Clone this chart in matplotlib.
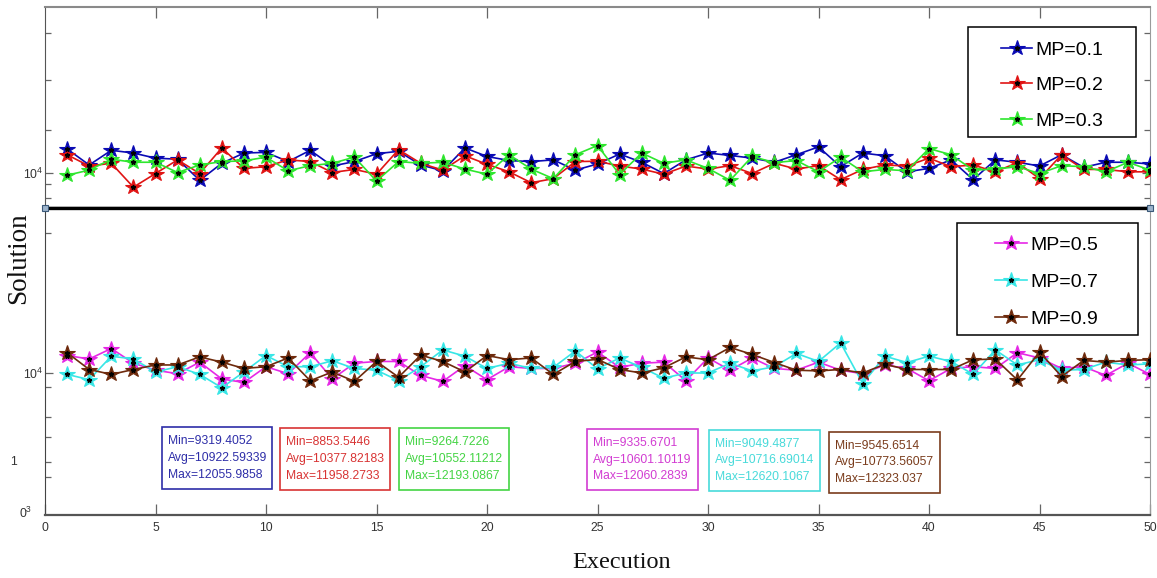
import matplotlib
matplotlib.use('Agg')
import matplotlib.pyplot as plt
from matplotlib.patches import Rectangle
from matplotlib.legend_handler import HandlerTuple

plt.rcParams['font.family'] = ['Liberation Sans', 'DejaVu Sans']
plt.rcParams['mathtext.default'] = 'regular'

W, H = 1157, 578

executions = list(range(1, 51))
mp01 = [11932, 10616, 11820, 11596, 11176, 11092, 9356, 10756, 11596, 11652,
        10896, 11820, 10532, 10896, 11540, 11736, 10616, 10140, 12016, 11316,
        10980, 10896, 11036, 10196, 10700, 11512, 10840, 9916, 11036, 11596,
        11400, 11176, 10840, 11456, 12100, 10476, 11596, 11372, 10056, 10336,
        11036, 9412, 11036, 10840, 10532, 11456, 10420, 10840, 10840, 10700]
mp02 = [11456, 10532, 10756, 8796, 9916, 11036, 9916, 12016, 10336, 10476,
        11036, 10896, 10000, 10252, 9860, 11876, 10756, 10196, 11372, 10672,
        10056, 9160, 9496, 10896, 10924, 10532, 10280, 9860, 10532, 10280,
        10560, 9916, 10756, 10280, 10560, 9412, 10252, 10616, 10532, 11176,
        10476, 10616, 10056, 10812, 9496, 11456, 10252, 10252, 10056, 10056]
mp03 = [9776, 10196, 11092, 10840, 10840, 10000, 10616, 10896, 10952, 11260,
        10140, 10560, 10756, 11260, 9300, 10896, 10756, 10840, 10280, 9860,
        11456, 10280, 9496, 11456, 12212, 9832, 11596, 10756, 11036, 10336,
        9356, 11316, 10812, 10980, 10056, 11260, 10056, 10252, 10140, 11960,
        11456, 10196, 10280, 10476, 9916, 10560, 10476, 10056, 10840, 10196]
mp05 = [11540, 11232, 12156, 10862, 10246, 9938, 10955, 9476, 9168, 10554,
        9938, 11786, 9476, 10862, 11016, 11016, 9784, 9261, 10647, 9415,
        10554, 10400, 10400, 10862, 11848, 10493, 10862, 10955, 9322, 11324,
        10246, 11324, 10400, 10246, 10955, 10246, 9938, 10708, 10400, 9322,
        10400, 10554, 10400, 11786, 11324, 10400, 10554, 9784, 10862, 9877]
mp07 = [9877, 9415, 11478, 11232, 10092, 10554, 9877, 8706, 10092, 11540,
        10554, 10554, 11078, 10400, 10246, 9322, 10554, 12033, 11478, 10400,
        10862, 10400, 10493, 11940, 10370, 11324, 10493, 9538, 10000, 10000,
        10862, 10185, 10554, 11725, 11016, 12649, 9076, 11478, 10924, 11478,
        11016, 9877, 12033, 10708, 11170, 10246, 10308, 10955, 10708, 10801]
mp09 = [11786, 10308, 9877, 10308, 10708, 10708, 11417, 10955, 10400, 10554,
        11324, 9322, 10092, 9261, 11016, 9630, 11571, 11016, 10092, 11540,
        11170, 11324, 9877, 11016, 11201, 10308, 10000, 10462, 11417, 11170,
        12248, 11632, 10924, 10246, 10185, 10308, 10000, 10770, 10308, 10308,
        10308, 11170, 11232, 9384, 11848, 9692, 11109, 10955, 11109, 11170]

x_ticks = [0, 5, 10, 15, 20, 25, 30, 35, 40, 45, 50]
top_x_ticks = [5, 10, 15, 20, 30, 35, 40, 45]
labels_top = ['MP=0.1', 'MP=0.2', 'MP=0.3']
labels_bot = ['MP=0.5', 'MP=0.7', 'MP=0.9']
colors_top = ['#0a0ab4', '#e01414', '#2ee62e']
colors_bot = ['#e628e6', '#38e6e6', '#6e2a0c']

stat_texts = [
    ('Min=9319.4052', 'Avg=10922.59339', 'Max=12055.9858'),
    ('Min=8853.5446', 'Avg=10377.82183', 'Max=11958.2733'),
    ('Min=9264.7226', 'Avg=10552.11212', 'Max=12193.0867'),
    ('Min=9335.6701', 'Avg=10601.10119', 'Max=12060.2839'),
    ('Min=9049.4877', 'Avg=10716.69014', 'Max=12620.1067'),
    ('Min=9545.6514', 'Avg=10773.56057', 'Max=12323.037'),
]
stat_colors = ['#2e2ea8', '#d83434', '#44d444', '#d23cd2', '#48dada', '#7a3c1c']
stat_boxes_px = [(162, 427, 272, 489), (280, 428, 390, 490), (399, 428, 509, 490),
                 (587, 429, 698, 490), (709, 430, 820, 491), (829, 432, 940, 493)]

fig = plt.figure(figsize=(W / 100, H / 100), dpi=100)
fig.patch.set_facecolor('white')


def fx(px):
    return px / W


def fy(py):
    return 1 - py / H


ax_top = fig.add_axes([fx(45), fy(208), fx(1150) - fx(45), fy(7) - fy(208)])
ax_bot = fig.add_axes([fx(45), fy(515), fx(1150) - fx(45), fy(208) - fy(515)])


def draw(ax, ys, color):
    ln, = ax.plot(executions, ys, '-', color=color, lw=1.2, marker='*', ms=11.5,
                  mfc=color, mec=color, mew=0.8, zorder=3)
    ct, = ax.plot(executions, ys, ls='none', marker='*', ms=3.5, color='black', zorder=4)
    return (ln, ct)


h_top = [draw(ax_top, s, c) for s, c in zip([mp01, mp02, mp03], colors_top)]
h_bot = [draw(ax_bot, s, c) for s, c in zip([mp05, mp07, mp09], colors_bot)]

for ax in (ax_top, ax_bot):
    ax.set_xlim(0, 50)
    ax.tick_params(which='both', direction='in', color='#666666', width=0.9,
                   left=True, right=True, labelsize=8.8, labelcolor='#333333')
    ax.tick_params(which='major', length=6)
    ax.tick_params(which='minor', length=4)

# top panel
ax_top.set_ylim(7089, 23571)
ax_top.set_yticks([10000])
ax_top.set_yticklabels(['10$^4$'])
ax_top.set_yticks([7909, 9057, 13485, 17585, 21430], minor=True)
ax_top.set_xticks(top_x_ticks)
ax_top.set_xticks([], minor=True)
ax_top.tick_params(axis='x', which='major', bottom=False, top=True, labelbottom=False,
                   length=8)
ax_top.tick_params(axis='y', pad=1)
ax_top.spines['top'].set_color('#8a8a8a')
ax_top.spines['top'].set_linewidth(1.5)
ax_top.spines['left'].set_color('#555555')
ax_top.spines['right'].set_color('#9a9a9a')
ax_top.spines['bottom'].set_color('black')
ax_top.spines['bottom'].set_linewidth(2.4)

# bottom panel
ax_bot.set_ylim(-2496, 24520)
ax_bot.set_yticks([10000])
ax_bot.set_yticklabels(['10$^4$'])
ax_bot.set_yticks([848, 2168, 4368, 6128, 8768, 22320], minor=True)
ax_bot.set_xticks(x_ticks)
ax_bot.set_xticklabels([str(t) for t in x_ticks])
ax_bot.tick_params(axis='x', which='major', length=8, pad=5)
ax_bot.tick_params(axis='y', pad=1)
ax_bot.spines['top'].set_color('black')
ax_bot.spines['top'].set_linewidth(2.4)
ax_bot.spines['left'].set_color('#444444')
ax_bot.spines['right'].set_color('#9a9a9a')
ax_bot.spines['bottom'].set_color('#555555')
ax_bot.spines['bottom'].set_linewidth(1.6)
ax_bot.plot([0, 1], [1, 1], transform=ax_bot.transAxes, ls='none', marker='s', ms=5,
            mfc='#9db4cc', mec='#3a5878', mew=0.8, clip_on=False, zorder=6)

# clipped decade labels on bottom axis
fig.text(fx(17), fy(462), '1', ha='right', va='center', fontsize=8.8, color='#333333')
fig.text(fx(32), fy(513), '0$^3$', ha='right', va='center', fontsize=8.8, color='#333333')

# legends: frames drawn separately
for (x0, y0, x1, y1) in [(968, 27, 1136, 137), (957, 223, 1138, 335)]:
    fig.patches.append(Rectangle((fx(x0), fy(y1)), fx(x1) - fx(x0), fy(y0) - fy(y1),
                                 transform=fig.transFigure, fill=False, ec='black',
                                 lw=1.1, zorder=5))

hmap = {tuple: HandlerTuple(ndivide=1)}
leg1 = ax_top.legend(h_top, labels_top, handler_map=hmap, frameon=False, loc='upper left',
                     bbox_to_anchor=(fx(1001), fy(41)), bbox_transform=fig.transFigure,
                     borderpad=0, borderaxespad=0, handlelength=1.6, handletextpad=0.15,
                     labelspacing=0.93, prop={'family': 'Liberation Sans', 'size': 14})
leg2 = ax_bot.legend(h_bot, labels_bot, handler_map=hmap, frameon=False, loc='upper left',
                     bbox_to_anchor=(fx(995), fy(236)), bbox_transform=fig.transFigure,
                     borderpad=0, borderaxespad=0, handlelength=1.65, handletextpad=0.15,
                     labelspacing=1.01, prop={'family': 'Liberation Sans', 'size': 14})

# stat boxes
for (x0, y0, x1, y1), txt, col in zip(stat_boxes_px, stat_texts, stat_colors):
    fig.patches.append(Rectangle((fx(x0), fy(y1)), fx(x1) - fx(x0), fy(y0) - fy(y1),
                                 transform=fig.transFigure, fill=False, ec=col,
                                 lw=1.2, zorder=5))
    fig.text(fx(x0 + 6), fy((y0 + y1) / 2), '\n'.join(txt), ha='left', va='center',
             fontsize=8.7, color=col, linespacing=1.55)

fig.text(fx(19), fy(258), 'Solution', rotation=90, ha='center', va='center',
         family='Liberation Serif', fontsize=19.5, color='#111111')
fig.text(fx(622), fy(562), 'Execution', ha='center', va='center',
         family='Liberation Serif', fontsize=17.5, color='#111111')

fig.savefig('out.png', dpi=100, facecolor='white')
